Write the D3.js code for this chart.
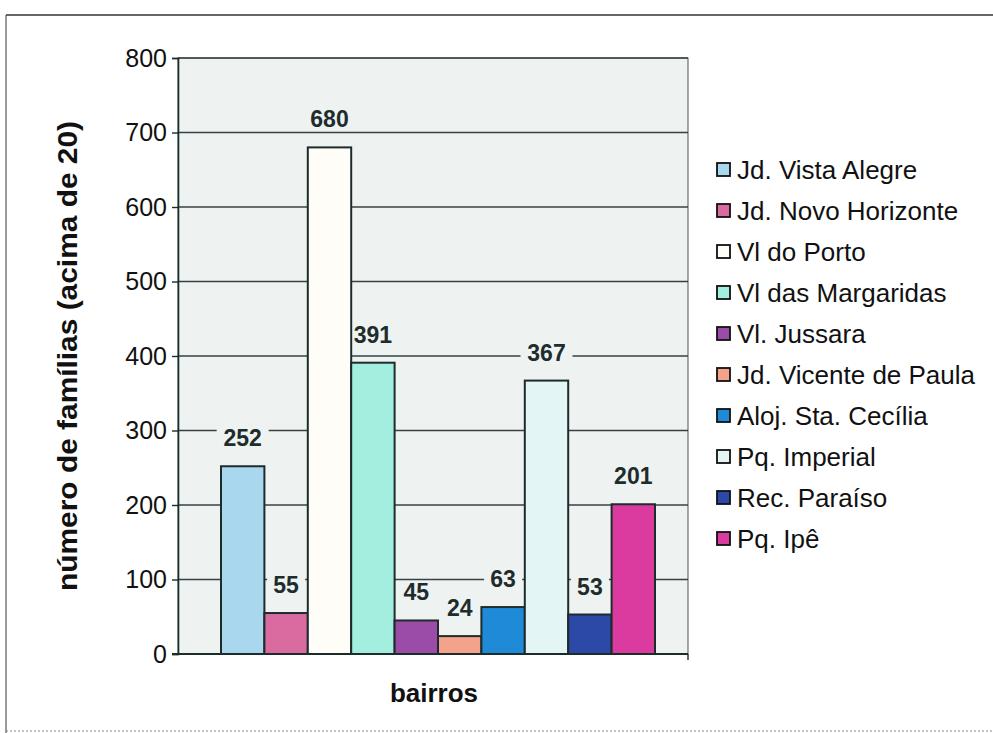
<!DOCTYPE html>
<html>
<head>
<meta charset="utf-8">
<script src="https://cdn.jsdelivr.net/npm/d3@7"></script>
<style>
  body { margin: 0; background: #fff; }
  text { font-family: Arial, "Liberation Sans", sans-serif; }
</style>
</head>
<body>
<div id="chart"></div>
<script>
// data
var bairros = ["Jd. Vista Alegre", "Jd. Novo Horizonte", "Vl do Porto", "Vl das Margaridas",
  "Vl. Jussara", "Jd. Vicente de Paula", "Aloj. Sta. Cecília", "Pq. Imperial",
  "Rec. Paraíso", "Pq. Ipê"];
var familias = [252, 55, 680, 391, 45, 24, 63, 367, 53, 201];
var yTicks = [0, 100, 200, 300, 400, 500, 600, 700, 800];
var cores = ["#a8d7ee", "#d96ba0", "#fffdf8", "#a4eee0", "#9a4ca8",
  "#f4a28c", "#1f8ad8", "#e3f5f5", "#2d49a8", "#db3a9f"];

var W = 993, H = 733;
var PLOT = { left: 178, right: 688, top: 58, bottom: 654 };
var PLOT_BG = "#eef3f2";
var DARK = "#1d2b2b";

var svg = d3.select("#chart").append("svg")
  .attr("width", W)
  .attr("height", H);

// outer frame (only top / left / bottom visible in the scan)
svg.append("line").attr("x1", 6).attr("x2", W).attr("y1", 15).attr("y2", 15)
  .attr("stroke", "#333").attr("stroke-width", 1.5);
svg.append("line").attr("x1", 6).attr("x2", 6).attr("y1", 15).attr("y2", H)
  .attr("stroke", "#555").attr("stroke-width", 1.2);
svg.append("line").attr("x1", 6).attr("x2", W).attr("y1", 731).attr("y2", 731)
  .attr("stroke", "#888").attr("stroke-width", 1).attr("stroke-dasharray", "2,2");

var y = d3.scaleLinear().domain([0, 800]).range([PLOT.bottom, PLOT.top]);
var x = d3.scaleBand().domain(bairros).range([221, 655]).paddingInner(0);

// plot area
svg.append("rect")
  .attr("x", PLOT.left).attr("y", PLOT.top)
  .attr("width", PLOT.right - PLOT.left).attr("height", PLOT.bottom - PLOT.top)
  .attr("fill", PLOT_BG)
  .attr("stroke", "#4a5555").attr("stroke-width", 1);

// gridlines
svg.append("g").selectAll("line")
  .data(yTicks.slice(1))
  .enter().append("line")
  .attr("x1", PLOT.left).attr("x2", PLOT.right)
  .attr("y1", function(d) { return y(d); }).attr("y2", function(d) { return y(d); })
  .attr("stroke", "#364242").attr("stroke-width", 1.5);

// label positions
function labelPos(d, i) {
  return "translate(" + (x(bairros[i]) + x.bandwidth() / 2) + "," + (y(d) - 20) + ")";
}

// patches of background behind the labels (gridline breaks), under the bars
svg.append("g").selectAll("rect")
  .data(familias)
  .enter().append("rect")
  .attr("transform", labelPos)
  .attr("x", function(d) { return -String(d).length * 7 - 5; })
  .attr("y", -19)
  .attr("width", function(d) { return String(d).length * 14 + 10; })
  .attr("height", 22)
  .attr("fill", PLOT_BG);

// y axis
var yAxis = svg.append("g")
  .attr("transform", "translate(" + PLOT.left + ",0)")
  .call(d3.axisLeft(y).tickValues(yTicks).tickSize(6).tickPadding(5).tickFormat(d3.format("d")));
yAxis.select(".domain").attr("stroke", DARK).attr("stroke-width", 1.6);
yAxis.selectAll(".tick line").attr("stroke", DARK).attr("stroke-width", 1.4);
yAxis.selectAll(".tick text")
  .attr("font-size", 25)
  .attr("fill", "#111")
  .attr("font-family", "Arial, 'Liberation Sans', sans-serif");

// x axis line
svg.append("line")
  .attr("x1", PLOT.left - 6).attr("x2", PLOT.right)
  .attr("y1", PLOT.bottom).attr("y2", PLOT.bottom)
  .attr("stroke", DARK).attr("stroke-width", 1.8);
svg.append("line")
  .attr("x1", PLOT.right).attr("x2", PLOT.right)
  .attr("y1", PLOT.bottom).attr("y2", PLOT.bottom + 6)
  .attr("stroke", DARK).attr("stroke-width", 1.4);

// bars
svg.append("g").selectAll("rect")
  .data(familias)
  .enter().append("rect")
  .attr("x", function(d, i) { return x(bairros[i]); })
  .attr("y", function(d) { return y(d); })
  .attr("width", x.bandwidth())
  .attr("height", function(d) { return y(0) - y(d); })
  .attr("fill", function(d, i) { return cores[i]; })
  .attr("stroke", DARK)
  .attr("stroke-width", 2);

// data labels
svg.append("g").selectAll("text")
  .data(familias)
  .enter().append("text")
  .attr("transform", labelPos)
  .attr("text-anchor", "middle")
  .attr("font-size", 23)
  .attr("font-weight", "bold")
  .attr("fill", "#1e2c2c")
  .text(function(d) { return d; });

// axis titles
svg.append("text")
  .attr("x", 434).attr("y", 702)
  .attr("text-anchor", "middle")
  .attr("font-size", 26)
  .attr("font-weight", "bold")
  .attr("fill", "#111")
  .text("bairros");

svg.append("text")
  .attr("transform", "translate(77,356) rotate(-90)")
  .attr("text-anchor", "middle")
  .attr("font-size", 27)
  .attr("font-weight", "bold")
  .attr("fill", "#111")
  .attr("textLength", 470)
  .attr("lengthAdjust", "spacingAndGlyphs")
  .text("número de famílias (acima de 20)");

// legend
var legend = svg.append("g").selectAll("g")
  .data(bairros)
  .enter().append("g")
  .attr("transform", function(d, i) { return "translate(717," + (169.5 + i * 41) + ")"; });
legend.append("rect")
  .attr("x", 0).attr("y", -6.5)
  .attr("width", 13).attr("height", 13)
  .attr("fill", function(d, i) { return cores[i]; })
  .attr("stroke", "#111").attr("stroke-width", 1.8);
legend.append("text")
  .attr("x", 20).attr("y", 9.5)
  .attr("font-size", 26)
  .attr("fill", "#111")
  .text(function(d) { return d; });
</script>
</body>
</html>
